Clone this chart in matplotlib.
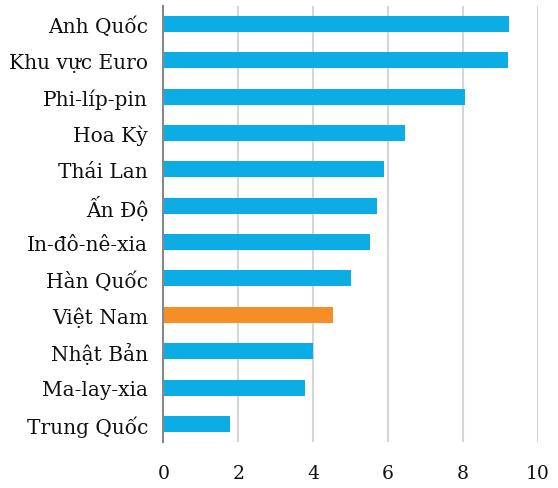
import matplotlib
matplotlib.use("Agg")
from matplotlib import pyplot as plt

# data (top to bottom)
countries = ["Anh Quốc", "Khu vực Euro", "Phi-líp-pin", "Hoa Kỳ", "Thái Lan", "Ấn Độ",
             "In-đô-nê-xia", "Hàn Quốc", "Việt Nam", "Nhật Bản", "Ma-lay-xia", "Trung Quốc"]
values = [9.22, 9.19, 8.05, 6.45, 5.89, 5.70, 5.52, 5.02, 4.53, 3.99, 3.78, 1.78]
highlight = "Việt Nam"
xticks = [0, 2, 4, 6, 8, 10]

plt.rcParams['font.family'] = ['DejaVu Serif']

fig = plt.figure(figsize=(5.58, 4.89), dpi=100)
ax = fig.add_axes([0.293, 0.094, 0.671, 0.892])

colors = ['#F68E28' if c == highlight else '#0BADE4' for c in countries]
pos = list(range(len(countries)))
ax.barh(pos, values, height=0.44, color=colors, zorder=3)

ax.set_xlim(0, 10)
ax.set_ylim(len(countries) - 0.5, -0.5)
ax.set_yticks(pos)
ax.set_yticklabels(countries, fontsize=14.5, color='#111111')
ax.set_xticks(xticks)
ax.set_xticklabels([str(x) for x in xticks], fontsize=13.5, color='#111111')
ax.tick_params(axis='y', length=0, pad=11)
ax.tick_params(axis='x', length=0, pad=16)

ax.grid(axis='x', color='#d6d6d6', linewidth=1.5, zorder=0)
for s in ['top', 'right', 'bottom']:
    ax.spines[s].set_visible(False)
ax.spines['left'].set_color('#888888')
ax.spines['left'].set_linewidth(1.5)
ax.spines['left'].set_zorder(4)

plt.savefig('out.png', dpi=100)
